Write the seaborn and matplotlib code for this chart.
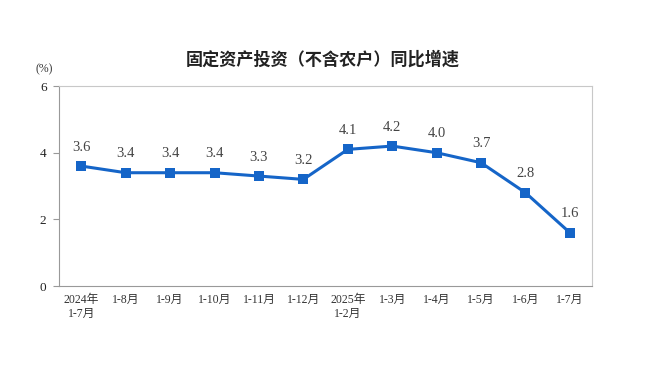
import matplotlib
matplotlib.use("Agg")
import matplotlib.pyplot as plt
import seaborn as sns
import pandas as pd
import numpy as np

categories = ["2024年\n1-7月", "1-8月", "1-9月", "1-10月", "1-11月", "1-12月",
              "2025年\n1-2月", "1-3月", "1-4月", "1-5月", "1-6月", "1-7月"]
values = [3.6, 3.4, 3.4, 3.4, 3.3, 3.2, 4.1, 4.2, 4.0, 3.7, 2.8, 1.6]
yticks = [0, 2, 4, 6]
title = "固定资产投资（不含农户）同比增速"

sns.set_theme(style="white")
plt.rcParams['font.family'] = ['Liberation Serif', 'Noto Sans CJK SC', 'DejaVu Sans']

df = pd.DataFrame({"pos": np.arange(len(categories)), "val": values})

fig = plt.figure(figsize=(6.45, 3.71), dpi=100)
ax = fig.add_axes([0.0915, 0.229, 0.8265, 0.539])
color = "#1565C8"
sns.lineplot(data=df, x="pos", y="val", ax=ax, color=color, linewidth=2.2,
             marker="s", markersize=6.5, markeredgewidth=0, markerfacecolor=color)

ax.set_xlim(-0.5, len(categories) - 0.5)
ax.set_ylim(0, 6)
ax.set_yticks(yticks)
ax.set_yticklabels([str(v) for v in yticks], fontsize=9.5, color="#222222")
ax.set_xticks(df["pos"])
ax.set_xticklabels(categories, fontsize=8.5, color="#333333", linespacing=1.2)
ax.set_xticks(np.arange(0.5, len(categories) - 1, 1), minor=True)
ax.tick_params(axis="x", which="major", length=0, pad=6)
ax.tick_params(axis="x", which="minor", length=4, direction="in", color="#999999", width=0.8)
ax.tick_params(axis="y", which="major", length=4, direction="out", color="#999999", width=0.8, left=True, pad=5)
ax.set_xlabel("")
ax.set_ylabel("")
for s in ax.spines.values():
    s.set_color("#c8c8c8")
    s.set_linewidth(0.8)
ax.spines["left"].set_color("#999999")
ax.spines["bottom"].set_color("#999999")

for x, v in zip(df["pos"], values):
    ax.annotate(f"{v:.1f}", (x, v), xytext=(0, 9), textcoords="offset points",
                ha="center", va="bottom", fontsize=10.5, color="#444444")

fig.text(0.5, 0.838, title, ha="center", va="center", fontsize=12.3,
         family=["Noto Sans CJK SC"], fontweight="bold", color="#222222")
fig.text(0.069, 0.812, "(%)", ha="center", va="center", fontsize=8.5, color="#333333")

fig.savefig("out.png", dpi=100, facecolor="white")
